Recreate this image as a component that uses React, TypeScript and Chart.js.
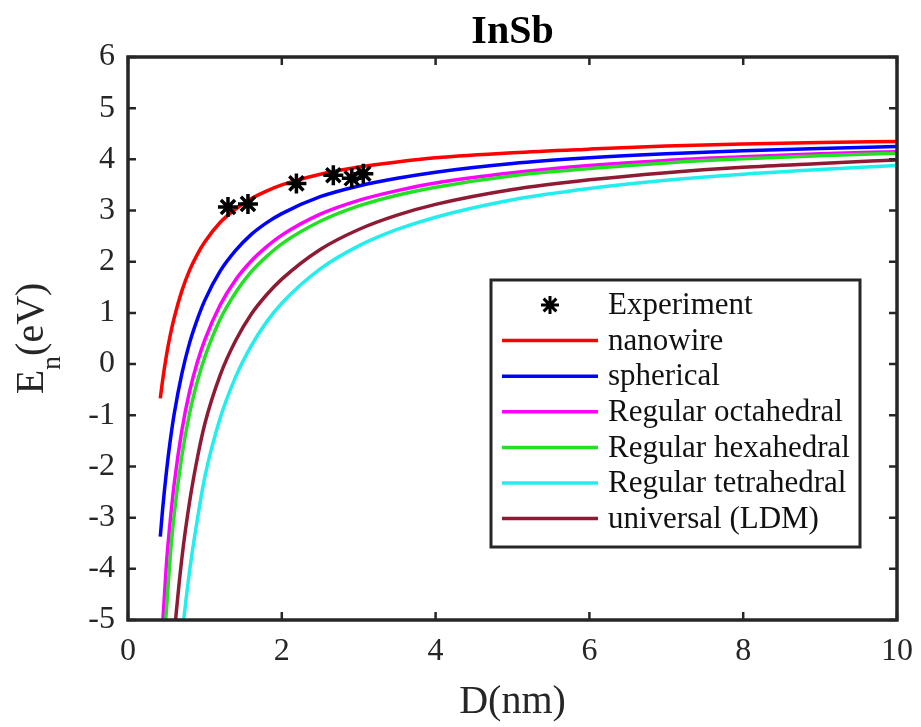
import React, { useEffect, useRef } from "react";
import { Chart, registerables } from "chart.js";

Chart.register(...registerables);

// ---- data ----
const D = [0.42, 0.45, 0.5, 0.55, 0.6, 0.7, 0.8, 0.9, 1.0, 1.2, 1.4, 1.6, 1.8, 2.0, 2.5, 3.0, 3.5, 4.0, 5.0, 6.0, 7.0, 8.0, 9.0, 10.0];
const nanowire = [-0.67, -0.32, 0.17, 0.57, 0.9, 1.43, 1.83, 2.14, 2.39, 2.77, 3.03, 3.23, 3.38, 3.5, 3.71, 3.85, 3.95, 4.03, 4.13, 4.2, 4.26, 4.3, 4.33, 4.35];
const spherical = [-3.37, -2.84, -2.1, -1.49, -0.98, -0.19, 0.41, 0.87, 1.25, 1.82, 2.22, 2.53, 2.76, 2.94, 3.27, 3.48, 3.63, 3.75, 3.92, 4.03, 4.11, 4.17, 4.21, 4.25];
const octahedral = [-5.9, -5.1, -3.9, -3.05, -2.35, -1.3, -0.54, 0.03, 0.48, 1.16, 1.65, 2.01, 2.29, 2.52, 2.93, 3.2, 3.39, 3.54, 3.74, 3.88, 3.98, 4.05, 4.11, 4.15];
const hexahedral = [-6.6, -5.7, -4.8, -3.75, -2.95, -1.8, -0.97, -0.35, 0.14, 0.88, 1.4, 1.8, 2.1, 2.35, 2.79, 3.09, 3.3, 3.455, 3.68, 3.82, 3.93, 4.01, 4.07, 4.12];
const tetrahedral = [null, null, null, null, -7.1, -5.35, -4.05, -3.05, -2.2, -1.05, -0.25, 0.35, 0.82, 1.19, 1.86, 2.31, 2.63, 2.87, 3.21, 3.43, 3.59, 3.71, 3.8, 3.88];
const universal = [null, null, -7.3, -6.2, -5.3, -3.8, -2.7, -1.85, -1.16, -0.21, 0.46, 0.97, 1.35, 1.66, 2.24, 2.63, 2.91, 3.12, 3.41, 3.6, 3.74, 3.845, 3.92, 3.99];

const expD = [1.3, 1.56, 2.19, 2.67, 2.91, 3.06];
const expE = [3.07, 3.13, 3.53, 3.69, 3.63, 3.72];

const xTicks = [0, 2, 4, 6, 8, 10];
const yTicks = [-5, -4, -3, -2, -1, 0, 1, 2, 3, 4, 5, 6];

const seriesLabels = [
  "Experiment",
  "nanowire",
  "spherical",
  "Regular octahedral",
  "Regular hexahedral",
  "Regular tetrahedral",
  "universal (LDM)",
];
const seriesColors = ["#000000", "#ff0000", "#0000ff", "#ff00ff", "#22e022", "#22eeee", "#8e1a33"];

const AXIS = "#262626";
const SERIF = "'Liberation Serif', 'DejaVu Serif', serif";

function pts(ys: (number | null)[]) {
  return D.map((d, i) => ({ x: d, y: ys[i] }));
}

function drawStar(ctx: CanvasRenderingContext2D, x: number, y: number, r: number) {
  ctx.beginPath();
  for (let k = 0; k < 4; k++) {
    const a = (k * Math.PI) / 4;
    ctx.moveTo(x - r * Math.cos(a), y - r * Math.sin(a));
    ctx.lineTo(x + r * Math.cos(a), y + r * Math.sin(a));
  }
  ctx.stroke();
}

const matlabPlugin = {
  id: "matlabDecor",
  afterDraw(chart: any) {
    const ctx: CanvasRenderingContext2D = chart.ctx;
    const { left, right, top, bottom } = chart.chartArea;
    const xs = chart.scales.x;
    const ys = chart.scales.y;
    ctx.save();

    // frame
    ctx.strokeStyle = AXIS;
    ctx.lineWidth = 3.5;
    ctx.strokeRect(left, top, right - left, bottom - top);

    // inward ticks on all sides
    ctx.lineWidth = 2.5;
    const tl = 8;
    ctx.beginPath();
    xTicks.forEach((v) => {
      const px = xs.getPixelForValue(v);
      ctx.moveTo(px, bottom);
      ctx.lineTo(px, bottom - tl);
      ctx.moveTo(px, top);
      ctx.lineTo(px, top + tl);
    });
    yTicks.forEach((v) => {
      const py = ys.getPixelForValue(v);
      ctx.moveTo(left, py);
      ctx.lineTo(left + tl, py);
      ctx.moveTo(right, py);
      ctx.lineTo(right - tl, py);
    });
    ctx.stroke();

    const cx = (left + right) / 2;
    const cy = (top + bottom) / 2;

    // title
    ctx.fillStyle = "#000";
    ctx.textAlign = "center";
    ctx.textBaseline = "middle";
    ctx.font = `bold 40px ${SERIF}`;
    ctx.fillText("InSb", cx, top - 24);

    // x label
    ctx.fillStyle = AXIS;
    ctx.font = `40px ${SERIF}`;
    ctx.fillText("D(nm)", cx, bottom + 82);

    // y label with subscript
    ctx.save();
    ctx.translate(29, cy);
    ctx.rotate(-Math.PI / 2);
    ctx.textAlign = "left";
    ctx.textBaseline = "alphabetic";
    const big = `40px ${SERIF}`;
    const small = `28px ${SERIF}`;
    ctx.font = big;
    const wE = ctx.measureText("E").width;
    const wR = ctx.measureText("(eV)").width;
    ctx.font = small;
    const wn = ctx.measureText("n").width;
    let sx = -(wE + wn + wR) / 2;
    const base = 14;
    ctx.font = big;
    ctx.fillText("E", sx, base);
    sx += wE;
    ctx.font = small;
    ctx.fillText("n", sx, base + 17);
    sx += wn;
    ctx.font = big;
    ctx.fillText("(eV)", sx, base);
    ctx.restore();

    // legend box
    const lx = 491, ly = 280, lw = 369, lh = 267;
    ctx.fillStyle = "#fff";
    ctx.fillRect(lx, ly, lw, lh);
    ctx.strokeStyle = AXIS;
    ctx.lineWidth = 3;
    ctx.strokeRect(lx, ly, lw, lh);
    ctx.font = `31px ${SERIF}`;
    ctx.textAlign = "left";
    ctx.textBaseline = "middle";
    chart.data.datasets.forEach((ds: any, i: number) => {
      const ry = 305 + i * 35.6;
      if (ds.showLine === false) {
        ctx.strokeStyle = ds.borderColor;
        ctx.lineWidth = 3;
        drawStar(ctx, 550, ry, 9);
      } else {
        ctx.strokeStyle = ds.borderColor;
        ctx.lineWidth = 3.5;
        ctx.beginPath();
        ctx.moveTo(502, ry);
        ctx.lineTo(598, ry);
        ctx.stroke();
      }
      ctx.fillStyle = "#111";
      ctx.fillText(ds.label, 608, ry + 1);
    });

    ctx.restore();
  },
};

export default function App() {
  const ref = useRef<HTMLCanvasElement | null>(null);

  useEffect(() => {
    if (!ref.current) return;
    const series = [nanowire, spherical, octahedral, hexahedral, tetrahedral, universal];
    const lineSets = series.map((ys, i) => ({
      type: "scatter" as const,
      label: seriesLabels[i + 1],
      data: pts(ys),
      showLine: true,
      borderColor: seriesColors[i + 1],
      backgroundColor: seriesColors[i + 1],
      borderWidth: 3.5,
      pointRadius: 0,
      cubicInterpolationMode: "monotone" as const,
      order: series.length - i,
    }));
    const chart = new Chart(ref.current, {
      type: "scatter",
      data: {
        datasets: [
          {
            label: seriesLabels[0],
            data: expD.map((d, i) => ({ x: d, y: expE[i] })),
            showLine: false,
            pointStyle: "star",
            pointRadius: 10,
            borderWidth: 3.5,
            borderColor: "#000",
            backgroundColor: "#000",
            order: 0,
          },
          ...lineSets,
        ] as any,
      },
      options: {
        animation: false,
        responsive: false,
        devicePixelRatio: 1,
        layout: { padding: { top: 57, right: 24, left: 0, bottom: 0 } },
        plugins: { legend: { display: false }, tooltip: { enabled: false }, title: { display: false } },
        scales: {
          x: {
            type: "linear",
            min: 0,
            max: 10,
            grid: { display: false },
            border: { display: false },
            ticks: {
              stepSize: 2,
              color: AXIS,
              font: { family: SERIF, size: 32 },
              padding: 4,
              maxRotation: 0,
            },
            afterFit: (s: any) => {
              s.height = 107;
            },
          },
          y: {
            type: "linear",
            min: -5,
            max: 6,
            grid: { display: false },
            border: { display: false },
            ticks: {
              stepSize: 1,
              color: AXIS,
              font: { family: SERIF, size: 32 },
              padding: 5,
            },
            afterFit: (s: any) => {
              s.width = 128;
            },
          },
        },
      },
      plugins: [matlabPlugin],
    });
    return () => chart.destroy();
  }, []);

  return (
    <div style={{ position: "absolute", left: 0, top: 0, width: 921, height: 727, background: "#fff" }}>
      <canvas ref={ref} width={921} height={727} style={{ width: 921, height: 727, display: "block" }} />
    </div>
  );
}
